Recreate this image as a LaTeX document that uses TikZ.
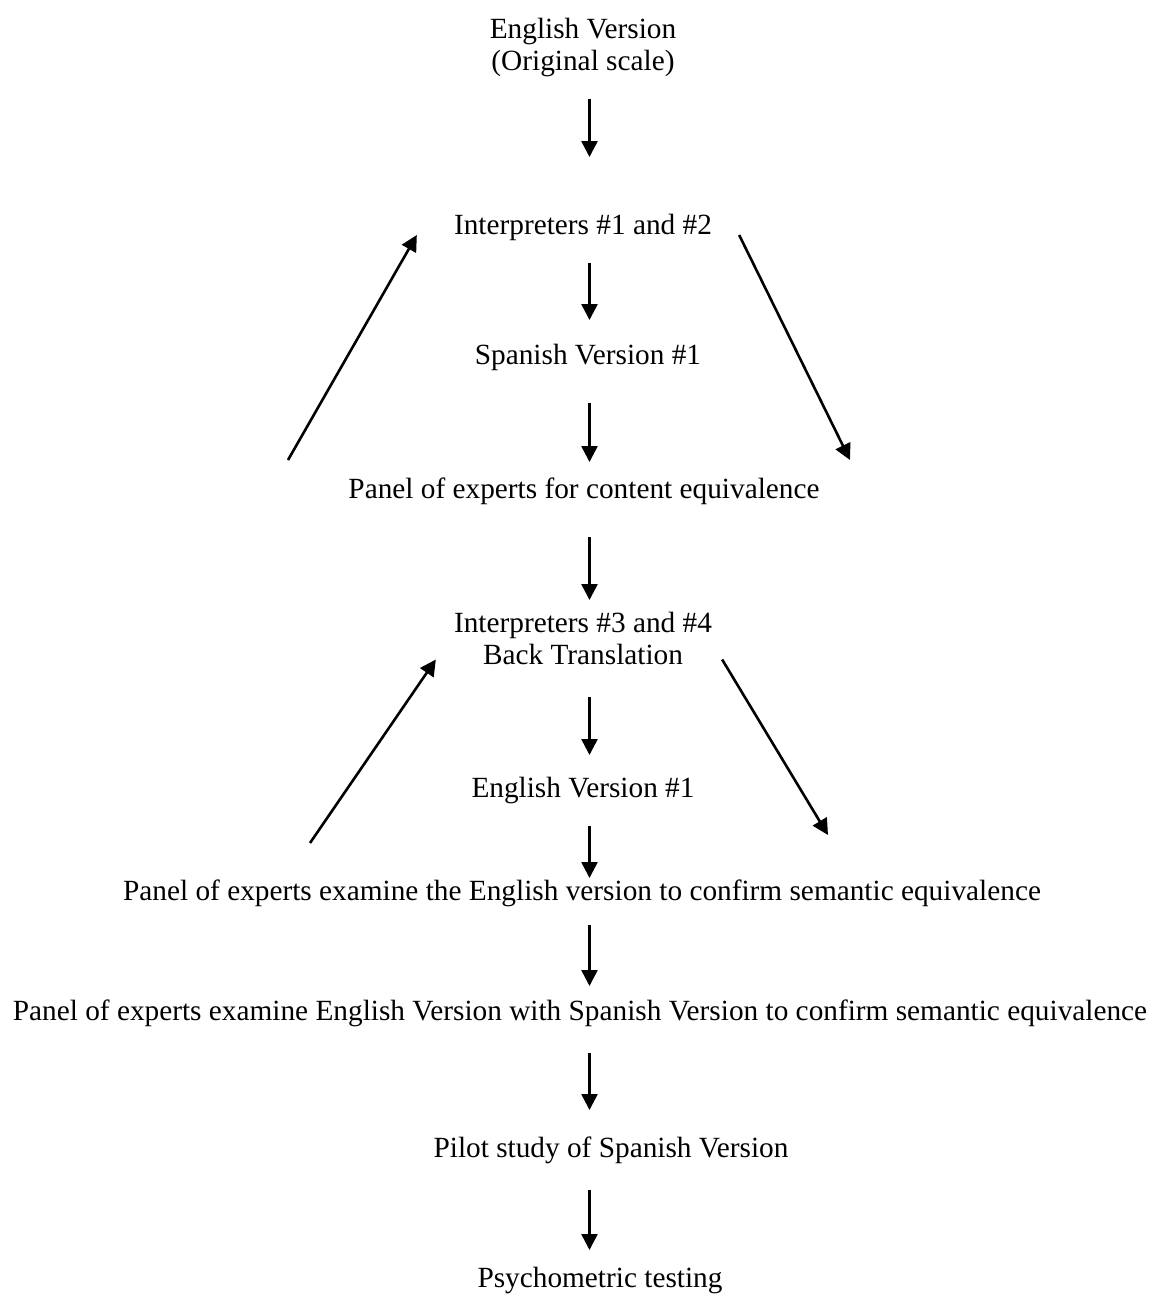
\documentclass[tikz,border=0pt]{standalone}
\usepackage{fontspec}
\setmainfont{Liberation Serif}
\usetikzlibrary{arrows.meta,calc}

\begin{document}
\begin{tikzpicture}[x=1pt,y=-1pt,
        txt/.style={inner sep=0pt, align=center, font=\fontsize{29.3}{31.5}\selectfont},
        arr/.style={line width=2.6pt, -{Triangle[length=16pt,width=16pt]}}]
    \useasboundingbox (0,0) rectangle (1159,1294);
    % column of the straight arrows
    \coordinate (col) at (589.5,0);

    % steps:
    \node[txt, anchor=north] (eng) at (583,18) {English Version\\(Original scale)};
    \node[txt, anchor=base] (int12) at (583,234) {Interpreters \#1 and \#2};
    \node[txt, anchor=base] (spa1) at (588,364) {Spanish Version \#1};
    \node[txt, anchor=base] (pcon) at (584,498) {Panel of experts for content equivalence};
    \node[txt, anchor=north] (int34) at (583,612) {Interpreters \#3 and \#4\\Back Translation};
    \node[txt, anchor=base] (eng1) at (583,797) {English Version \#1};
    \node[txt, anchor=base] (psem) at (582,900) {Panel of experts examine the English version to confirm semantic equivalence};
    \node[txt, anchor=base] (plong) at (580,1020) {Panel of experts examine English Version with Spanish Version to confirm semantic equivalence};
    \node[txt, anchor=base] (pilot) at (611,1157) {Pilot study of Spanish Version};
    \node[txt, anchor=base] (psych) at (600,1287) {Psychometric testing};

    % straight arrows:
    \draw[arr] ($(eng.south -| col)+(0,22)$) -- ($(int12.base -| col)+(0,-77)$);
    \draw[arr] ($(int12.base -| col)+(0,29)$) -- ($(spa1.base -| col)+(0,-44)$);
    \draw[arr] ($(spa1.base -| col)+(0,39)$) -- ($(pcon.base -| col)+(0,-36)$);
    \draw[arr] ($(pcon.base -| col)+(0,39)$) -- ($(int34.north -| col)+(0,-12)$);
    \draw[arr] ($(int34.south -| col)+(0,32)$) -- ($(eng1.base -| col)+(0,-42)$);
    \draw[arr] ($(eng1.base -| col)+(0,29)$) -- ($(psem.base -| col)+(0,-22)$);
    \draw[arr] ($(psem.base -| col)+(0,25)$) -- ($(plong.base -| col)+(0,-34)$);
    \draw[arr] ($(plong.base -| col)+(0,33)$) -- ($(pilot.base -| col)+(0,-47)$);
    \draw[arr] ($(pilot.base -| col)+(0,33)$) -- ($(psych.base -| col)+(0,-37)$);

    % feedback arrows:
    \coordinate (fb1) at (288,460);
    \coordinate (fb2) at (850,460);
    \coordinate (fb3) at (310,843);
    \coordinate (fb4) at (828,835);
    \draw[arr] (fb1) -- ($(int12.base west)+(-37,1)$);
    \draw[arr] ($(int12.base east)+(27,1)$) -- (fb2);
    \draw[arr] (fb3) -- ($(int34.south west)+(-18,-5)$);
    \draw[arr] ($(int34.south east)+(10,-5)$) -- (fb4);
\end{tikzpicture}
\end{document}
